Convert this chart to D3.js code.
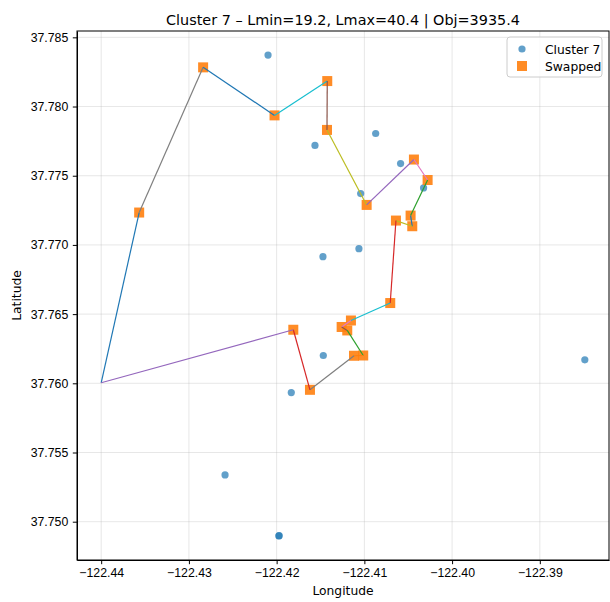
<!DOCTYPE html>
<html>
<head>
<meta charset="utf-8">
<script src="https://cdn.jsdelivr.net/npm/d3@7"></script>
<style>
body { margin: 0; background: #fff; }
svg { font-family: "DejaVu Sans", sans-serif; }
.grid line { stroke: #b0b0b0; stroke-opacity: 0.3; stroke-width: 1px; }
.axis path, .axis line { stroke: #000; stroke-width: 1px; }
.axis text { font-size: 12.3px; fill: #000; }
.seg { fill: none; stroke-width: 1.2px; }
</style>
</head>
<body>
<svg id="chart" width="610" height="602"></svg>
<script>

/// Cluster 7 points
var clusterLon = [-122.42098, -122.41563, -122.40871, -122.40587, -122.41042, -122.40325, -122.41472,
                  -122.41062, -122.41468, -122.41833, -122.42588, -122.41975, -122.41971, -122.38487];
var clusterLat = [37.78372, 37.77719, 37.77805, 37.77588, 37.77371, 37.77412, 37.76915,
                  37.76973, 37.76201, 37.75933, 37.75338, 37.74897, 37.74899, 37.76170];

/// Swapped points, in route order
var swappedLon = [-122.43567, -122.42838, -122.42024, -122.41423, -122.41426, -122.40974, -122.40435,
                  -122.40279, -122.40473, -122.40454, -122.40640, -122.40705, -122.41153, -122.41259,
                  -122.41195, -122.41013, -122.41118, -122.41620, -122.41810];
var swappedLat = [37.77234, 37.78283, 37.77936, 37.78184, 37.77831, 37.77289, 37.77617,
                  37.77469, 37.77212, 37.77135, 37.77176, 37.76580, 37.76454, 37.76407,
                  37.76382, 37.76201, 37.76199, 37.75953, 37.76387];

/// route starts and ends at the depot
var depotLon = -122.44, depotLat = 37.76004;

/// colour of each route leg (tab10 names)
var legColors = ["blue", "gray", "blue", "cyan", "brown", "olive", "purple", "pink", "green", "blue",
                 "olive", "red", "cyan", "pink", "brown", "green", "orange", "gray", "red", "purple"];

var xTicks = [-122.44, -122.43, -122.42, -122.41, -122.40, -122.39];
var yTicks = [37.750, 37.755, 37.760, 37.765, 37.770, 37.775, 37.780, 37.785];

var tab10 = {blue: "#1f77b4", orange: "#ff7f0e", green: "#2ca02c", red: "#d62728", purple: "#9467bd",
             brown: "#8c564b", pink: "#e377c2", gray: "#7f7f7f", olive: "#bcbd22", cyan: "#17becf"};

var cluster = clusterLon.map(function(d, i) { return {x: d, y: clusterLat[i]}; });
var swapped = swappedLon.map(function(d, i) { return {x: d, y: swappedLat[i]}; });
var route = [{x: depotLon, y: depotLat}].concat(swapped, [{x: depotLon, y: depotLat}]);

var svg = d3.select("#chart"),
    margin = {top: 31, right: 1, bottom: 42, left: 77},
    width = +svg.attr("width") - margin.left - margin.right,
    height = +svg.attr("height") - margin.top - margin.bottom;

/// matplotlib style 5% padding on the data extent
var all = cluster.concat(route);
function padded(ext) { var p = (ext[1] - ext[0]) * 0.05; return [ext[0] - p, ext[1] + p]; }

var x = d3.scaleLinear()
    .domain(padded(d3.extent(all, function(d) { return d.x; })))
    .range([0, width]);
var y = d3.scaleLinear()
    .domain(padded(d3.extent(all, function(d) { return d.y; })))
    .range([height, 0]);

var g = svg.append("g").attr("transform", "translate(" + margin.left + "," + margin.top + ")");

/// grid
g.append("g").attr("class", "grid")
  .selectAll("line").data(xTicks).enter().append("line")
  .attr("x1", function(d) { return x(d); }).attr("x2", function(d) { return x(d); })
  .attr("y1", 0).attr("y2", height);
g.append("g").attr("class", "grid")
  .selectAll("line").data(yTicks).enter().append("line")
  .attr("y1", function(d) { return y(d); }).attr("y2", function(d) { return y(d); })
  .attr("x1", 0).attr("x2", width);

/// cluster points
g.append("g").selectAll("circle").data(cluster).enter().append("circle")
  .attr("cx", function(d) { return x(d.x); })
  .attr("cy", function(d) { return y(d.y); })
  .attr("r", 3.6)
  .attr("fill", tab10.blue)
  .attr("fill-opacity", 0.7);

/// swapped points
g.append("g").selectAll("rect").data(swapped).enter().append("rect")
  .attr("x", function(d) { return x(d.x) - 5; })
  .attr("y", function(d) { return y(d.y) - 5; })
  .attr("width", 10).attr("height", 10)
  .attr("fill", tab10.orange)
  .attr("fill-opacity", 0.9);

/// route legs
var line = d3.line().x(function(d) { return x(d.x); }).y(function(d) { return y(d.y); });
g.append("g").selectAll("path").data(d3.pairs(route)).enter().append("path")
  .attr("class", "seg")
  .attr("d", function(d) { return line(d); })
  .attr("stroke", function(d, i) { return tab10[legColors[i]]; });

/// axes
var fmtX = function(d) { return d3.format(".2f")(d).replace("-", "\u2212"); };
g.append("g").attr("class", "axis")
  .attr("transform", "translate(0," + height + ")")
  .call(d3.axisBottom(x).tickValues(xTicks).tickFormat(fmtX).tickSize(4.2).tickPadding(4.5).tickSizeOuter(0));
g.append("g").attr("class", "axis")
  .call(d3.axisLeft(y).tickValues(yTicks).tickFormat(d3.format(".3f")).tickSize(4.2).tickPadding(4.5).tickSizeOuter(0));

/// frame
g.append("rect").attr("width", width).attr("height", height)
  .attr("fill", "none").attr("stroke", "#000").attr("stroke-width", 1);

/// labels
svg.append("text").attr("x", margin.left + width / 2).attr("y", 25)
  .attr("text-anchor", "middle").attr("font-size", "14.4px")
  .text("Cluster 7 \u2013 Lmin=19.2, Lmax=40.4 | Obj=3935.4");
svg.append("text").attr("x", margin.left + width / 2).attr("y", 595)
  .attr("text-anchor", "middle").attr("font-size", "12.3px").text("Longitude");
svg.append("text").attr("transform", "translate(21," + (margin.top + height / 2) + ") rotate(-90)")
  .attr("text-anchor", "middle").attr("font-size", "12.3px").text("Latitude");

/// legend
var lg = svg.append("g").attr("transform", "translate(507,37)");
lg.append("rect").attr("width", 95).attr("height", 40).attr("rx", 3)
  .attr("fill", "#fff").attr("fill-opacity", 0.8).attr("stroke", "#ccc");
lg.append("circle").attr("cx", 15).attr("cy", 12).attr("r", 3.6)
  .attr("fill", tab10.blue).attr("fill-opacity", 0.7);
lg.append("rect").attr("x", 10).attr("y", 24).attr("width", 10).attr("height", 10)
  .attr("fill", tab10.orange).attr("fill-opacity", 0.9);
lg.append("text").attr("x", 38).attr("y", 16.5).attr("font-size", "12.3px").text("Cluster 7");
lg.append("text").attr("x", 38).attr("y", 33.5).attr("font-size", "12.3px").text("Swapped");

</script>
</body>
</html>
